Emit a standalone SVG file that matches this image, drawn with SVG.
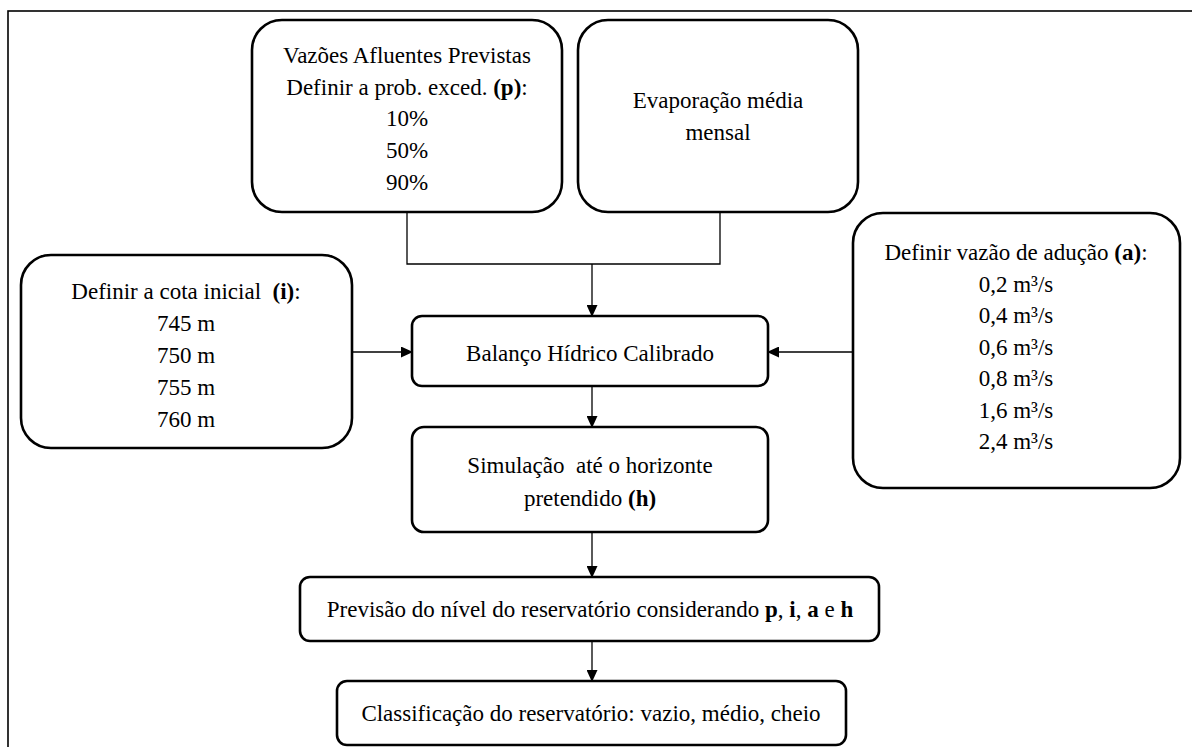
<svg xmlns="http://www.w3.org/2000/svg" width="1192" height="747" viewBox="0 0 1192 747" font-family="'Liberation Serif', 'Times New Roman', serif">
  <style>
    .box { fill: #fff; stroke: #000; stroke-width: 2.6; }
    .wire { fill: none; stroke: #000; stroke-width: 1.3; }
    text { font-family: "Liberation Serif", "Times New Roman", serif; font-size: 23px; fill: #000; text-anchor: middle; }
    .b { font-weight: bold; }
  </style>
  <defs>
    <marker id="arrow" markerUnits="userSpaceOnUse" markerWidth="12" markerHeight="11" refX="11" refY="5.5" orient="auto">
      <path d="M0,0 L12,5.5 L0,11 Z" fill="#000"/>
    </marker>
  </defs>

  <rect width="1192" height="747" fill="#fff"/>
  <!-- outer frame (runs off the right and bottom edges) -->
  <rect x="8" y="11" width="1200" height="760" fill="none" stroke="#000" stroke-width="1.6"/>

  <g id="connectors">
    <polyline class="wire" points="407,212 407,264 720,264 720,212"/>
    <line class="wire" x1="592" y1="264" x2="592" y2="316" marker-end="url(#arrow)"/>
    <line class="wire" x1="352" y1="352" x2="412" y2="352" marker-end="url(#arrow)"/>
    <line class="wire" x1="853" y1="352" x2="768" y2="352" marker-end="url(#arrow)"/>
    <line class="wire" x1="592" y1="386" x2="592" y2="427" marker-end="url(#arrow)"/>
    <line class="wire" x1="592" y1="532" x2="592" y2="577" marker-end="url(#arrow)"/>
    <line class="wire" x1="592" y1="641" x2="592" y2="681" marker-end="url(#arrow)"/>
  </g>

  <g id="vazoes">
    <rect class="box" x="252" y="20" width="310" height="192" rx="30"/>
    <text x="407" y="63">Vazões Afluentes Previstas</text>
    <text x="407" y="95">Definir a prob. exced. <tspan class="b">(p)</tspan>:</text>
    <text x="407" y="126">10%</text>
    <text x="407" y="158">50%</text>
    <text x="407" y="190">90%</text>
  </g>

  <g id="evaporacao">
    <rect class="box" x="578" y="20" width="280" height="192" rx="30"/>
    <text x="718" y="108">Evaporação média</text>
    <text x="718" y="140">mensal</text>
  </g>

  <g id="cota">
    <rect class="box" x="21" y="255" width="331" height="193" rx="30"/>
    <text x="186" y="299">Definir a cota inicial&#160; <tspan class="b">(i)</tspan>:</text>
    <text x="186" y="331">745 m</text>
    <text x="186" y="363">750 m</text>
    <text x="186" y="395">755 m</text>
    <text x="186" y="427">760 m</text>
  </g>

  <g id="aducao">
    <rect class="box" x="853" y="213" width="327" height="275" rx="30"/>
    <text x="1016" y="260">Definir vazão de adução <tspan class="b">(a)</tspan>:</text>
    <text x="1016" y="292">0,2 m³/s</text>
    <text x="1016" y="323">0,4 m³/s</text>
    <text x="1016" y="355">0,6 m³/s</text>
    <text x="1016" y="386">0,8 m³/s</text>
    <text x="1016" y="418">1,6 m³/s</text>
    <text x="1016" y="449">2,4 m³/s</text>
  </g>

  <g id="balanco">
    <rect class="box" x="412" y="316" width="356" height="70" rx="10"/>
    <text x="590" y="361">Balanço Hídrico Calibrado</text>
  </g>

  <g id="simulacao">
    <rect class="box" x="412" y="427" width="356" height="105" rx="12"/>
    <text x="590" y="473">Simulação&#160; até o horizonte</text>
    <text x="590" y="506">pretendido <tspan class="b">(h)</tspan></text>
  </g>

  <g id="previsao">
    <rect class="box" x="300" y="577" width="579" height="64" rx="10"/>
    <text x="590" y="617">Previsão do nível do reservatório considerando <tspan class="b">p</tspan>, <tspan class="b">i</tspan>, <tspan class="b">a</tspan> e <tspan class="b">h</tspan></text>
  </g>

  <g id="classificacao">
    <rect class="box" x="337" y="681" width="509" height="64" rx="10"/>
    <text x="591" y="721">Classificação do reservatório: vazio, médio, cheio</text>
  </g>
</svg>
